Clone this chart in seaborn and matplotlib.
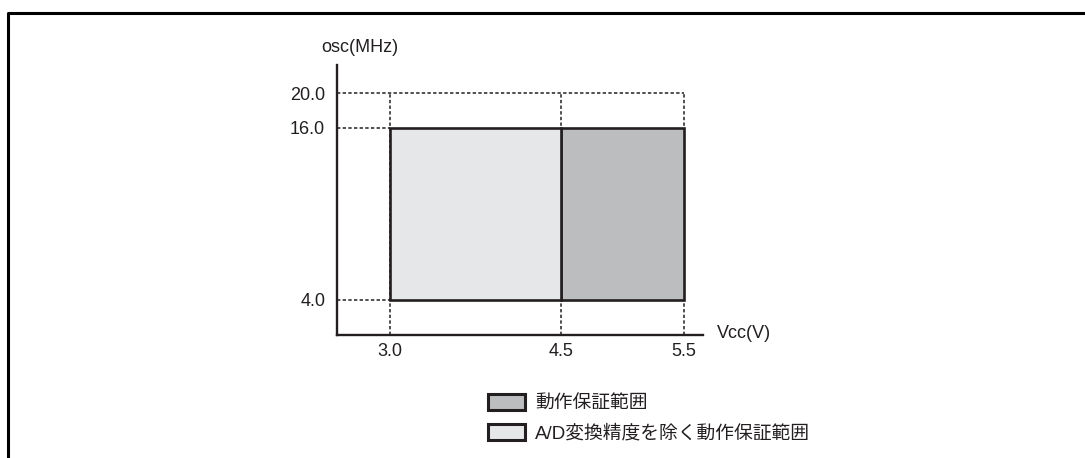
import numpy as np
import matplotlib
matplotlib.use("Agg")
import matplotlib.pyplot as plt
from matplotlib.lines import Line2D
from matplotlib.patches import Patch
import seaborn as sns

# operating ranges (Vcc in V, osc in MHz)
vcc_ticks = [3.0, 4.5, 5.5]
osc_ticks = [4.0, 16.0, 20.0]
range_labels = ["動作保証範囲", "A/D変換精度を除く動作保証範囲"]
range_vcc_lo = [4.5, 3.0]
range_vcc_hi = [5.5, 4.5]
range_osc_lo = [4.0, 4.0]
range_osc_hi = [16.0, 16.0]
range_colors = ["#bcbdbf", "#e6e7e8"]

ink = "#231f20"
fs = 13

sns.set_theme(style="white")
plt.rcParams["font.family"] = ["Liberation Sans", "Noto Sans CJK JP", "DejaVu Sans"]

# the drawing is schematic, not linear -> piecewise scales
x_anchor = [2.55, 3.0, 4.5, 5.5, 5.72]
x_pos = [0, 53, 224, 347, 366]
y_anchor = [0.0, 4.0, 16.0, 20.0, 23.2]
y_pos = [0, 35, 207, 242, 270]

def xf(v):
    return np.interp(v, x_anchor, x_pos)

def xi(p):
    return np.interp(p, x_pos, x_anchor)

def yf(v):
    return np.interp(v, y_anchor, y_pos)

def yi(p):
    return np.interp(p, y_pos, y_anchor)

W, H = 1085, 458
fig = plt.figure(figsize=(W / 100, H / 100), dpi=100)
ax = fig.add_axes([337 / W, (H - 335) / H, 366 / W, 270 / H])
ax.set_xscale("function", functions=(xf, xi))
ax.set_yscale("function", functions=(yf, yi))
ax.set_xlim(x_anchor[0], x_anchor[-1])
ax.set_ylim(y_anchor[0], y_anchor[-1])
ax.patch.set_alpha(0)

# dotted guide lines
dot = dict(color=ink, lw=1.1, ls=(0, (2.2, 1.5)), zorder=1)
ax.plot([x_anchor[0], vcc_ticks[-1]], [osc_ticks[2]] * 2, **dot)
ax.plot([x_anchor[0], vcc_ticks[0]], [osc_ticks[1]] * 2, **dot)
ax.plot([x_anchor[0], vcc_ticks[0]], [osc_ticks[0]] * 2, **dot)
for v in vcc_ticks:
    ax.plot([v, v], [0, osc_ticks[2]], **dot)

# operating ranges
for lo, hi, b, t, c in zip(range_vcc_lo, range_vcc_hi, range_osc_lo, range_osc_hi, range_colors):
    ax.bar(lo, t - b, width=hi - lo, bottom=b, align="edge", color=c,
           edgecolor=ink, linewidth=1.9, zorder=2)

for s in ["top", "right"]:
    ax.spines[s].set_visible(False)
for s in ["left", "bottom"]:
    ax.spines[s].set_color(ink)
    ax.spines[s].set_linewidth(1.7)

ax.set_xticks(vcc_ticks, [f"{v:.1f}" for v in vcc_ticks])
ax.set_yticks(osc_ticks, [f"{v:.1f}" for v in osc_ticks])
ax.minorticks_off()
ax.tick_params(axis="both", length=0, labelsize=fs, colors=ink)
ax.tick_params(axis="y", pad=8.5)
ax.tick_params(axis="x", pad=6)
ax.grid(False)

fig.text(360 / W, 1 - 48 / H, "osc(MHz)", ha="center", va="center", fontsize=fs, color=ink)
fig.text(717 / W, 1 - 334 / H, "Vcc(V)", ha="left", va="center", fontsize=fs, color=ink)

handles = [Patch(facecolor=c, edgecolor=ink, linewidth=2.2) for c in range_colors]
fig.legend(handles, range_labels, loc="upper left", bbox_to_anchor=(480 / W, 1 - 386 / H),
           borderaxespad=0, frameon=False, fontsize=13.5, handlelength=2.0, handleheight=1.0,
           handletextpad=0.55, labelspacing=0.6, labelcolor=ink)

# outer frame (left and top only)
fig.add_artist(Line2D([7.5 / W, 7.5 / W, 1.0], [0.0, 1 - 12.5 / H, 1 - 12.5 / H],
                      transform=fig.transFigure, color="black", lw=2.2))

fig.savefig("out.png", dpi=100)
